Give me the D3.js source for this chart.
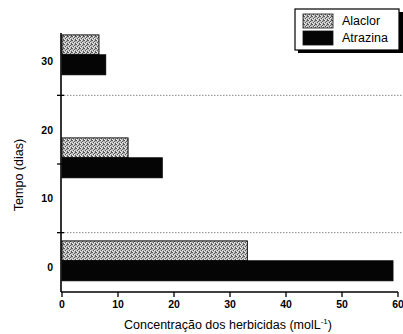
<!DOCTYPE html>
<html>
<head>
<meta charset="utf-8">
<script src="https://cdn.jsdelivr.net/npm/d3@7"></script>
<style>
  body { margin: 0; background: #fff; }
  svg { display: block; }
</style>
</head>
<body>
<div id="chart"></div>
<script>
// data
var days = [0, 15, 30];
var alaclor = [33.1, 11.8, 6.6];
var atrazina = [59.1, 17.9, 7.8];
var seriesNames = ["Alaclor", "Atrazina"];
var xTicks = [0, 10, 20, 30, 40, 50, 60];
var yTicks = [0, 10, 20, 30];
var yMinorTicks = [5, 15, 25];

var width = 403, height = 334;
var font = '"Liberation Sans", Arial, sans-serif';

var svg = d3.select("#chart").append("svg")
  .attr("width", width)
  .attr("height", height);

// speckled gray fill for alaclor
var defs = svg.append("defs");
var pat = defs.append("pattern")
  .attr("id", "dots")
  .attr("width", 4).attr("height", 4)
  .attr("patternUnits", "userSpaceOnUse");
pat.append("rect").attr("width", 4).attr("height", 4).attr("fill", "#bdbdbd");
[[0, 0], [2, 1], [1, 2], [3, 3], [3, 0]].forEach(function (p) {
  pat.append("rect").attr("x", p[0]).attr("y", p[1])
    .attr("width", 1).attr("height", 1).attr("fill", "#5a5a5a");
});
[[1, 0], [0, 3], [2, 2]].forEach(function (p) {
  pat.append("rect").attr("x", p[0]).attr("y", p[1])
    .attr("width", 1).attr("height", 1).attr("fill", "#eee");
});

var x = d3.scaleLinear().domain([0, 60]).range([62, 398]);
var y = d3.scaleLinear().domain([0, 30]).range([267, 61]);

var yTop = 33, yBottom = 292, xLeft = 61;

// dotted separators between groups
svg.selectAll(".sep")
  .data([5, 25])
  .enter().append("line")
  .attr("x1", xLeft).attr("x2", 403)
  .attr("y1", function (d) { return y(d); })
  .attr("y2", function (d) { return y(d); })
  .attr("stroke", "#888")
  .attr("stroke-width", 1)
  .attr("stroke-dasharray", "1.5,1.5");

// bars: alaclor above, atrazina below, split a bit above the day value
var split = 0.9, barH = 2.9;
var bars = svg.append("g");
days.forEach(function (d, i) {
  bars.append("rect")
    .attr("x", x(0))
    .attr("y", y(d + split + barH))
    .attr("width", x(alaclor[i]) - x(0))
    .attr("height", y(d + split) - y(d + split + barH))
    .attr("fill", "url(#dots)")
    .attr("stroke", "#111")
    .attr("stroke-width", 1);
  bars.append("rect")
    .attr("x", x(0))
    .attr("y", y(d + split))
    .attr("width", x(atrazina[i]) - x(0))
    .attr("height", y(d + split - barH) - y(d + split))
    .attr("fill", "#050505")
    .attr("stroke", "#050505")
    .attr("stroke-width", 1);
});

// axes
svg.append("line")
  .attr("x1", xLeft).attr("x2", xLeft)
  .attr("y1", yTop).attr("y2", yBottom)
  .attr("stroke", "#000").attr("stroke-width", 1.6);
svg.append("line")
  .attr("x1", xLeft).attr("x2", 398)
  .attr("y1", yBottom).attr("y2", yBottom)
  .attr("stroke", "#000").attr("stroke-width", 1.6);

var xAxis = svg.append("g");
xAxis.selectAll("line")
  .data(xTicks).enter().append("line")
  .attr("x1", function (d) { return x(d); })
  .attr("x2", function (d) { return x(d); })
  .attr("y1", yBottom).attr("y2", yBottom + 5)
  .attr("stroke", "#000").attr("stroke-width", 1.3);
xAxis.selectAll("text")
  .data(xTicks).enter().append("text")
  .attr("x", function (d) { return x(d); })
  .attr("y", yBottom + 16)
  .attr("text-anchor", "middle")
  .style("font-family", font)
  .style("font-size", "10.5px")
  .style("font-weight", "bold")
  .text(function (d) { return d; });

var yAxis = svg.append("g");
yAxis.selectAll("line.minor")
  .data(yMinorTicks).enter().append("line")
  .attr("class", "minor")
  .attr("x1", xLeft - 4).attr("x2", xLeft + 3)
  .attr("y1", function (d) { return y(d); })
  .attr("y2", function (d) { return y(d); })
  .attr("stroke", "#000").attr("stroke-width", 1.3);
yAxis.selectAll("text")
  .data(yTicks).enter().append("text")
  .attr("x", xLeft - 8)
  .attr("y", function (d) { return y(d) + 4; })
  .attr("text-anchor", "end")
  .style("font-family", font)
  .style("font-size", "10.5px")
  .style("font-weight", "bold")
  .text(function (d) { return d; });

// axis titles
var xt = svg.append("text")
  .attr("x", 228).attr("y", 329)
  .attr("text-anchor", "middle")
  .style("font-family", font)
  .style("font-size", "12.5px")
  .text("Concentração dos herbicidas (molL");
xt.append("tspan").attr("dy", -5).style("font-size", "8px").text("-1");
xt.append("tspan").attr("dy", 5).text(")");

svg.append("text")
  .attr("transform", "translate(23,175) rotate(-90)")
  .attr("text-anchor", "middle")
  .style("font-family", font)
  .style("font-size", "12.5px")
  .text("Tempo (dias)");

// legend with drop shadow
var lg = svg.append("g");
lg.append("rect")
  .attr("x", 298).attr("y", 12).attr("width", 105).attr("height", 41)
  .attr("fill", "#000");
lg.append("rect")
  .attr("x", 295).attr("y", 9).attr("width", 104).attr("height", 41)
  .attr("fill", "#fff").attr("stroke", "#000").attr("stroke-width", 1.2);
var swatchFill = ["url(#dots)", "#050505"];
seriesNames.forEach(function (name, i) {
  lg.append("rect")
    .attr("x", 303).attr("y", 14 + i * 17)
    .attr("width", 30).attr("height", 14)
    .attr("fill", swatchFill[i])
    .attr("stroke", "#111").attr("stroke-width", 0.8);
  lg.append("text")
    .attr("x", 342).attr("y", 25 + i * 17)
    .style("font-family", font)
    .style("font-size", "12.5px")
    .text(name);
});
</script>
</body>
</html>
